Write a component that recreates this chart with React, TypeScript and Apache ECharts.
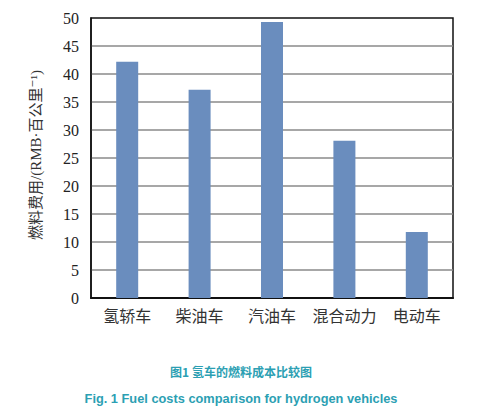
import React, { useEffect, useRef } from "react";
import * as echarts from "echarts";

const categories = ["氢轿车", "柴油车", "汽油车", "混合动力", "电动车"];
const fuelCost = [42.2, 37.2, 49.3, 28.1, 11.8];
const yTicks = { min: 0, max: 50, interval: 5 };
const yTitle = "燃料费用/(RMB·百公里⁻¹)";
const captionCn = "图1 氢车的燃料成本比较图";
const captionEn = "Fig. 1 Fuel costs comparison for hydrogen vehicles";

const SERIF = "Liberation Serif, DejaVu Serif, Noto Sans CJK SC, serif";

export default function App() {
  const ref = useRef<HTMLDivElement>(null);
  useEffect(() => {
    if (!ref.current) return;
    const chart = echarts.init(ref.current, undefined, { renderer: "svg" });
    chart.setOption({
      animation: false,
      backgroundColor: "#ffffff",
      grid: {
        left: 91,
        right: 46,
        top: 18,
        bottom: 112,
        show: true,
        borderColor: "#111",
        borderWidth: 1.5,
        backgroundColor: "transparent",
      },
      xAxis: {
        type: "category",
        data: categories,
        axisLine: { lineStyle: { color: "#111", width: 2 } },
        axisTick: { show: false },
        axisLabel: {
          interval: 0,
          color: "#333",
          fontSize: 16,
          margin: 10,
          fontFamily: SERIF,
        },
      },
      yAxis: {
        type: "value",
        min: yTicks.min,
        max: yTicks.max,
        interval: yTicks.interval,
        axisLine: { show: true, lineStyle: { color: "#111", width: 1.5 } },
        axisTick: { show: false },
        axisLabel: {
          color: "#222",
          fontSize: 16,
          margin: 12,
          fontFamily: SERIF,
        },
        splitLine: {
          show: true,
          showMaxLine: false,
          lineStyle: { color: "#8a8a8a", width: 1.5 },
        },
      },
      series: [
        {
          type: "bar",
          data: fuelCost,
          barWidth: 22,
          itemStyle: { color: "#6a8dbe" },
        },
      ],
      graphic: [
        {
          type: "text",
          x: 36,
          y: 155,
          rotation: Math.PI / 2,
          style: {
            text: yTitle,
            fill: "#333",
            fontSize: 15,
            fontFamily: SERIF,
            align: "center",
            verticalAlign: "middle",
          },
        },
        {
          type: "text",
          x: 241,
          y: 371,
          style: {
            text: captionCn,
            fill: "#2c9fb3",
            fontSize: 12,
            fontWeight: "bold",
            fontFamily: "Noto Sans CJK SC, sans-serif",
            align: "center",
            verticalAlign: "middle",
          },
        },
        {
          type: "text",
          x: 241,
          y: 398,
          style: {
            text: captionEn,
            fill: "#2c9fb3",
            fontSize: 12.8,
            fontWeight: "bold",
            fontFamily: "Liberation Sans, Arial, sans-serif",
            align: "center",
            verticalAlign: "middle",
          },
        },
      ],
    });
    return () => chart.dispose();
  }, []);
  return (
    <div
      ref={ref}
      style={{ position: "fixed", left: 0, top: 0, width: 499, height: 410 }}
    />
  );
}
